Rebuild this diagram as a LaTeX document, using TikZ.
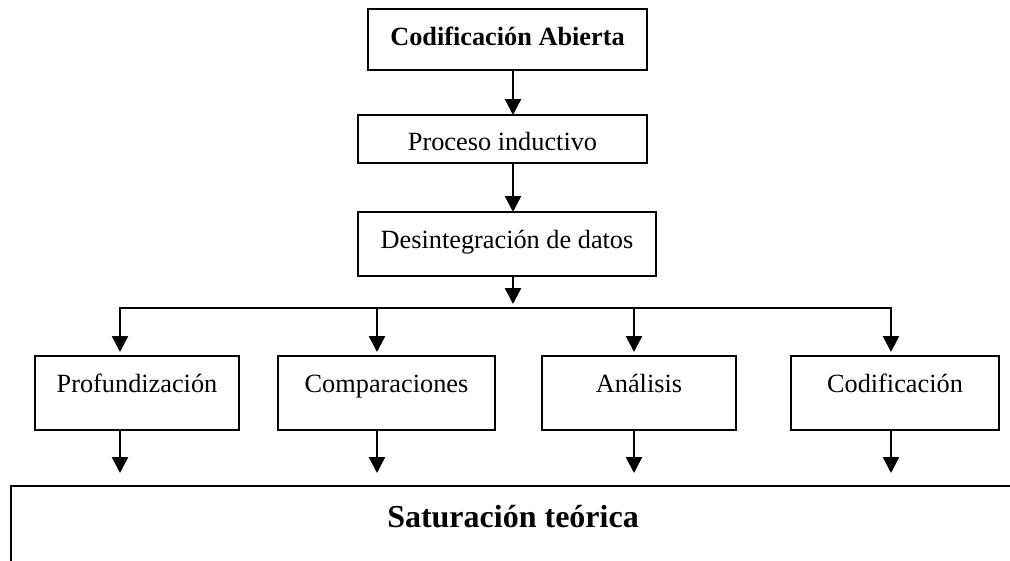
\documentclass[tikz,border=0pt]{standalone}
\usepackage{fontspec}
\setmainfont{Liberation Serif}
\usetikzlibrary{arrows.meta}
\tikzset{
  box/.style={draw, line width=2.5pt, inner xsep=0pt, inner ysep=0pt, outer sep=0pt,
    anchor=north, text height=36pt, font=\fontsize{26.3}{30}\selectfont},
  boldbox/.style={box, font=\fontsize{26.3}{30}\selectfont\bfseries},
  stagebox/.style={box, text depth=38pt},
}
\begin{document}
\begin{tikzpicture}[x=1pt,y=-1pt,>={Triangle[length=16pt,width=16pt]},line width=2.5pt]
    \useasboundingbox (0,0) rectangle (1010,560);
    \clip (0,0) rectangle (1010,560);
    \path (507.5,9) node[boldbox,minimum width=279pt,text depth=25pt](abierta){Codificación Abierta};
    \path (502.5,115) node[box,minimum width=289pt,text height=35pt,text depth=13pt](proceso){Proceso inductivo};
    \path (507,212) node[box,minimum width=298pt,text depth=28pt](desint){Desintegración de datos};
    \path (137,356) node[stagebox,minimum width=204pt](prof){Profundización}
          (386.5,356) node[stagebox,minimum width=217pt](comp){Comparaciones}
          (639,356) node[stagebox,minimum width=194pt](anal){Análisis}
          (895,356) node[stagebox,minimum width=208pt](codif){Codificación};
    \path (513,486) node[box,minimum width=1004pt,text height=41pt,text depth=80pt,
          font=\fontsize{32}{36}\selectfont\bfseries](sat){Saturación teórica};
    \coordinate (axis) at (513,0);
    \coordinate (hub) at (513,308);
    \coordinate (b1) at (120,308);
    \coordinate (b2) at (377,308);
    \coordinate (b3) at (634,308);
    \coordinate (b4) at (891,308);
    \draw[->] (abierta.south -| axis) -- (proceso.north -| axis);
    \draw[->] (proceso.south -| axis) -- (desint.north -| axis);
    \draw[->,shorten >=4pt] (desint.south -| axis) -- (hub);
    \draw[line cap=rect] (b1) -- (b4);
    \foreach \b/\n in {b1/prof,b2/comp,b3/anal,b4/codif} {
      \draw[->,shorten >=4pt] (\b) -- (\b |- \n.north);
      \draw[->,shorten >=13pt] (\b |- \n.south) -- (\b |- sat.north);
    }
  \end{tikzpicture}
\end{document}
